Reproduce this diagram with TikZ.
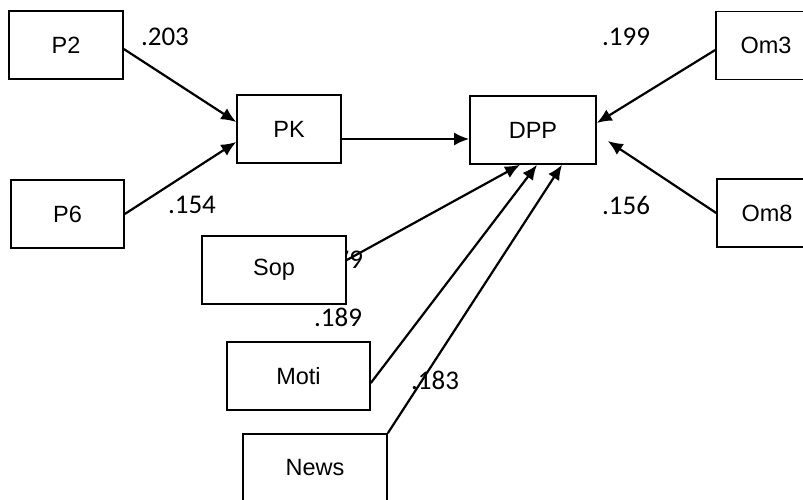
\documentclass[tikz,border=0pt]{standalone}
\usepackage{fontspec}
\setmainfont{Liberation Sans}
\newfontfamily\numfont{Carlito}
\usetikzlibrary{arrows.meta}

\tikzset{var/.style={draw,line width=1.6pt,fill=white,minimum height=68pt,font=\fontsize{23.5}{26}\selectfont,inner sep=0pt},
	coef/.style={font=\numfont\fontsize{27}{29}\selectfont,inner sep=0pt},
	path/.style={line width=2.2pt,-{Latex[length=15pt,width=13pt]}}}

\begin{document}
\begin{tikzpicture}[x=1pt,y=-1pt]
	\useasboundingbox (0,0) rectangle (803,499);

	% path coefficients
	\node[coef] (c-p2) at (165,37) {.203};
	\node[coef] (c-p6) at (192,205) {.154};
	\node[coef] (c-om3) at (626,37) {.199};
	\node[coef] (c-om8) at (626,205) {.156};
	\node[coef] (c-sop) at (339,260) {.179};
	\node[coef] (c-moti) at (338,317) {.189};
	\node[coef] (c-news) at (435,380) {.183};

	\node[var,minimum width=114pt] (P2) at (66,45) {P2};
	\node[var,minimum width=113pt] (P6) at (67.5,214) {P6};
	\node[var,minimum width=104pt] (PK) at (289,129) {PK};
	\node[var,minimum width=126pt] (DPP) at (533,130) {DPP};
	\node[var,minimum width=100pt] (Om3) at (766,45.5) {Om3};
	\node[var,minimum width=100pt] (Om8) at (767,213) {Om8};
	\node[var,minimum width=144pt] (Sop) at (274,270) {Sop};
	\node[var,minimum width=143pt] (Moti) at (298.5,376) {Moti};
	\node[var,minimum width=144pt] (News) at (315,468) {News};

	\draw[path] ([yshift=-4pt]P2.east) -- ([yshift=7pt]PK.west);
	\draw[path] (P6.east) -- ([yshift=-13pt]PK.west);
	\draw[path] ([yshift=-10pt]PK.east) -- ([yshift=-9pt]DPP.west);
	\draw[path] ([yshift=-4.5pt]Om3.west) -- ([yshift=7pt]DPP.east);
	\draw[path] (Om8.west) -- ([xshift=11pt,yshift=-11pt]DPP.east);
	\draw[path] ([yshift=10pt]Sop.east) -- ([xshift=-13pt]DPP.south);
	\draw[path] ([yshift=-7pt]Moti.east) -- ([xshift=4pt]DPP.south);
	\draw[path] (News.north east) -- ([xshift=29pt]DPP.south);

\end{tikzpicture}
\end{document}
